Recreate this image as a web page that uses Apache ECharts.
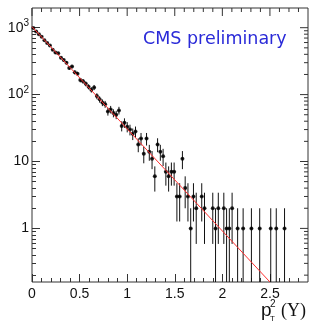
<!DOCTYPE html>
<html><head><meta charset="utf-8">
<script src="https://cdn.jsdelivr.net/npm/echarts@6/dist/echarts.min.js"></script>
<style>html,body{margin:0;padding:0;background:#fff}#c{width:316px;height:329px}</style>
</head><body><div id="c"></div>
<script>
// ---- data ----
const binCenters = [0.0145,0.0435,0.0725,0.1015,0.1305,0.1595,0.1885,0.2175,0.2465,0.2755,
  0.3045,0.3335,0.3625,0.3915,0.4205,0.4495,0.4785,0.5075,0.5365,0.5655,
  0.5945,0.6235,0.6525,0.6815,0.7105,0.7395,0.7685,0.7975,0.8265,0.8555,
  0.8845,0.9135,0.9425,0.9715,1.0005,1.0295,1.0585,1.0875,1.1165,1.1455,
  1.1745,1.2035,1.2325,1.2615,1.2905,1.3195,1.3485,1.3775,1.4065,1.4355,
  1.4645,1.4935,1.5225,1.5515,1.5805,1.6095,1.6385,1.6675,1.6965,1.7255,
  1.7835,1.8125,1.8995,1.9285,1.9575,2.0155,2.0445,2.0735,2.1025,2.1605,
  2.2185,2.3055,2.3925,2.5085,2.5665,2.6535];
const counts = [990,880,800,730,650,590,540,470,425,415,
  355,330,300,250,262,215,205,165,158,145,
  131,118,128,95,85,76,72,56,60,53,
  50,58,34,38,33,30,26,28,18,22,
  13,22,14,11,6,18,14,12,7,6,
  7,7,3,3,11,4,3,1,3,2,
  3,2,2,1,2,2,1,1,2,1,
  1,1,1,1,1,1];
const binHalfWidth = 0.0145;
const fitX = [0, 2.5];
const fitY = [1035, 0.158];
const xMajorTicks = [0, 0.5, 1, 1.5, 2, 2.5];
const xMinorTicks = [0.1,0.2,0.3,0.4,0.6,0.7,0.8,0.9,1.1,1.2,1.3,1.4,1.6,1.7,1.8,1.9,2.1,2.2,2.3,2.4,2.6,2.7,2.8];
const yMajorTicks = [1, 10, 100, 1000];
const yMinorTicks = [0.2,0.3,0.4,0.5,0.6,0.7,0.8,0.9,2,3,4,5,6,7,8,9,20,30,40,50,60,70,80,90,200,300,400,500,600,700,800,900];
const yMin = 0.158, yMax = 1970;
const xMin = 0, xMax = 2.9;
const titleText = 'CMS preliminary';

// ---- build ----
const L = Math.log10;
const lgMin = L(yMin), lgMax = L(yMax);
const pts = binCenters.map((x, i) => [x, L(counts[i])]);
const errs = binCenters.map((x, i) => {
  const n = counts[i], e = Math.sqrt(n);
  const lo = n - e > yMin ? L(n - e) : lgMin;
  return [x, L(n), lo, L(n + e), binHalfWidth];
});
const fit = fitX.map((x, i) => [x, L(fitY[i])]);
const MAJ = 8, MIN = 4;
// tick anchors on the top and right frame edges: [x, y, length]
const topTicks = xMajorTicks.map(v => [v, lgMax, MAJ]).concat(xMinorTicks.map(v => [v, lgMax, MIN]));
const rightTicks = yMajorTicks.map(v => [xMax, L(v), MAJ]).concat(yMinorTicks.map(v => [xMax, L(v), MIN]));

const axCol = '#333';
function xAx(g, vals, len, labels) {
  return {type:'value', gridIndex:g, min:xMin, max:xMax, position:'bottom',
    axisLine:{show:false, onZero:false}, splitLine:{show:false},
    axisTick:{show:true, inside:true, length:len, customValues:vals, lineStyle:{color:axCol, width:1}},
    axisLabel:labels ? {show:true, customValues:vals, fontSize:14, fontFamily:'Liberation Sans', color:'#111', margin:5,
      formatter: v => String(v)} : {show:false}};
}
function yAx(g, vals, len, labels) {
  return {type:'value', gridIndex:g, min:lgMin, max:lgMax, position:'left',
    axisLine:{show:false, onZero:false}, splitLine:{show:false},
    axisTick:{show:true, inside:true, length:len, customValues:vals.map(L), lineStyle:{color:axCol, width:1}},
    axisLabel:labels ? {show:true, customValues:vals.map(L), margin:3, fontFamily:'Liberation Sans', color:'#111',
      formatter: v => { const e = Math.round(v); return e >= 2 ? '{b|10}{s|' + e + '}' : '{b|' + Math.pow(10, e) + '}'; },
      rich:{b:{fontSize:14, fontFamily:'Liberation Sans', color:'#111'}, s:{fontSize:10, fontFamily:'Liberation Sans', color:'#111', padding:[0,0,9,0]}}
    } : {show:false}};
}
const gridBox = {left:32, right:8, top:8, bottom:47};

const chart = echarts.init(document.getElementById('c'), null, {renderer:'canvas'});
chart.setOption({
  animation:false,
  grid:[Object.assign({show:true, borderColor:axCol, borderWidth:1, backgroundColor:'transparent'}, gridBox),
        Object.assign({show:false}, gridBox)],
  xAxis:[xAx(0, xMajorTicks, MAJ, true), xAx(1, xMinorTicks, MIN, false)],
  yAxis:[yAx(0, yMajorTicks, MAJ, true), yAx(1, yMinorTicks, MIN, false)],
  series:[
    {type:'custom', xAxisIndex:0, yAxisIndex:0, clip:true, data:errs,
      renderItem:(params, api) => {
        const x = api.value(0), y = api.value(1);
        const c = api.coord([x, y]);
        const lo = api.coord([x, api.value(2)]), hi = api.coord([x, api.value(3)]);
        const l = api.coord([x - api.value(4), y]), r = api.coord([x + api.value(4), y]);
        return {type:'group', children:[
          {type:'line', shape:{x1:c[0], y1:lo[1], x2:c[0], y2:hi[1]}, style:{stroke:'#111', lineWidth:1}},
          {type:'line', shape:{x1:l[0], y1:c[1], x2:r[0], y2:c[1]}, style:{stroke:'#111', lineWidth:1}}
        ]};
      }},
    {type:'scatter', xAxisIndex:0, yAxisIndex:0, data:pts, symbol:'circle', symbolSize:4, itemStyle:{color:'#000'}},
    {type:'line', xAxisIndex:0, yAxisIndex:0, data:fit, symbol:'none', clip:true, lineStyle:{color:'#ff3030', width:1}, z:5},
    {type:'custom', xAxisIndex:0, yAxisIndex:0, clip:false, silent:true, z:6, data:topTicks,
      renderItem:(params, api) => {
        const c = api.coord([api.value(0), api.value(1)]);
        return {type:'line', shape:{x1:c[0], y1:c[1], x2:c[0], y2:c[1] + api.value(2)}, style:{stroke:axCol, lineWidth:1}};
      }},
    {type:'custom', xAxisIndex:0, yAxisIndex:0, clip:false, silent:true, z:6, data:rightTicks,
      renderItem:(params, api) => {
        const c = api.coord([api.value(0), api.value(1)]);
        return {type:'line', shape:{x1:c[0], y1:c[1], x2:c[0] - api.value(2), y2:c[1]}, style:{stroke:axCol, lineWidth:1}};
      }}
  ],
  graphic:[
    {type:'text', left:143, top:30, style:{text:titleText, font:'17.5px "DejaVu Sans"', fill:'#2a2ad8'}},
    {type:'text', left:261, top:301, style:{text:'p', font:'19px "Liberation Sans"', fill:'#111'}},
    {type:'text', left:270, top:299, style:{text:'2', font:'10px "Liberation Sans"', fill:'#111'}},
    {type:'text', left:270, top:315, style:{text:'T', font:'8px "Liberation Sans"', fill:'#111'}},
    {type:'text', left:281, top:302, style:{text:'(Υ)', font:'18px "Liberation Serif"', fill:'#111'}}
  ]
});
</script></body></html>
